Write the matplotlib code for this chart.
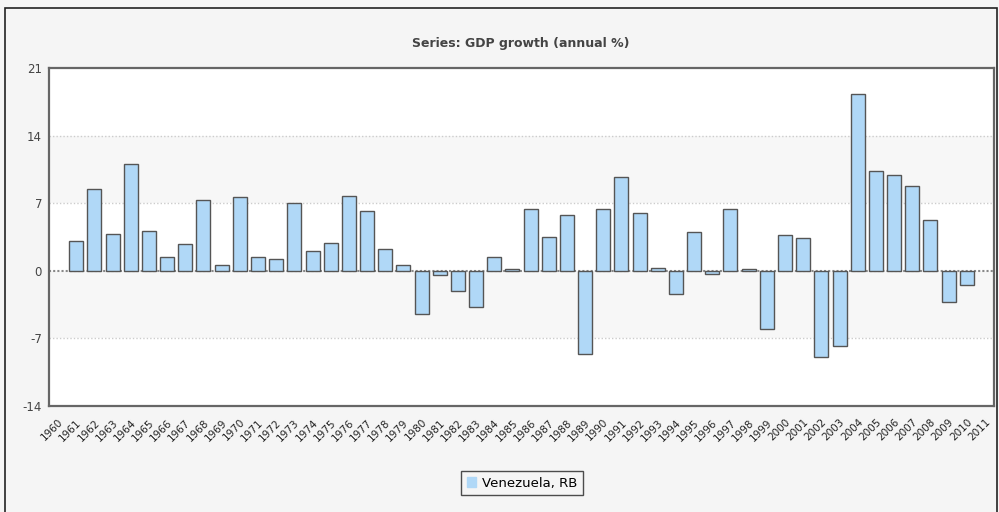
import numpy as np
import matplotlib
matplotlib.use('Agg')
from matplotlib import pyplot as plt
from matplotlib.patches import Rectangle, Patch

# GDP growth (annual %), Venezuela, RB; None = no data
years = list(range(1960, 2012))
growth = [None, 3.1, 8.5, 3.8, 11.1, 4.1, 1.4, 2.8, 7.3, 0.6,
          7.6, 1.4, 1.2, 7.0, 2.0, 2.9, 7.7, 6.2, 2.3, 0.6,
          -4.5, -0.4, -2.1, -3.8, 1.4, 0.2, 6.4, 3.5, 5.8, -8.6,
          6.4, 9.7, 6.0, 0.3, -2.4, 4.0, -0.3, 6.4, 0.2, -6.0,
          3.7, 3.4, -8.9, -7.8, 18.3, 10.3, 9.9, 8.8, 5.3, -3.2,
          -1.5, None]
y_ticks = [-14, -7, 0, 7, 14, 21]
series_name = 'Venezuela, RB'
title = 'Series: GDP growth (annual %)'

bar_color = '#b0d8f7'
edge_color = '#555555'

fig = plt.figure(figsize=(9.99, 5.12), dpi=100)
fig.patch.set_facecolor('#f5f5f5')

# outer frame of the chart widget
fig.patches.append(Rectangle((5 / 999, -0.1), 992 / 999, 1.1 - 8 / 512,
                             transform=fig.transFigure, fill=False,
                             edgecolor='#222222', linewidth=1.2))

ax = fig.add_axes([49 / 999, 1 - 406 / 512, (994 - 49) / 999, (406 - 68) / 512])
ax.set_facecolor('white')

# alternating bands between grid lines
for lo, hi in [(7, 14), (-7, 0)]:
    ax.axhspan(lo, hi, color='#f7f7f7', zorder=0, linewidth=0)
for t in [14, 7, -7]:
    ax.axhline(t, color='#cccccc', linestyle=(0, (1, 1.5)), linewidth=1, zorder=1)

x = np.arange(len(years))
vals = np.array([np.nan if v is None else v for v in growth], dtype=float)
mask = ~np.isnan(vals)
ax.bar(x[mask], vals[mask], width=0.77, color=bar_color,
       edgecolor=edge_color, linewidth=1.0, zorder=3)
ax.axhline(0, color='#888888', linestyle=(0, (1, 1)), linewidth=1.5, zorder=2)

ax.set_xlim(-0.5, len(years) - 0.5)
ax.set_ylim(-14, 21)
ax.set_yticks(y_ticks)
ax.set_yticklabels([str(t) for t in y_ticks], fontsize=8.5, color='#444444')
ax.set_xticks(x)
ax.set_xticklabels([str(y) for y in years], fontsize=7.5, color='#222222',
                   rotation=45, ha='right', rotation_mode='anchor')
ax.tick_params(axis='both', length=0)
ax.tick_params(axis='y', pad=5)
ax.tick_params(axis='x', pad=8)

for s in ax.spines.values():
    s.set_color('#666666')
    s.set_linewidth(1.6)

fig.text(521 / 999, 1 - 44 / 512, title, ha='center', va='center',
         fontsize=9, fontweight='bold', color='#444444')

leg = fig.legend(handles=[Patch(facecolor=bar_color, edgecolor=bar_color, label=series_name)],
                 loc='center', bbox_to_anchor=(522 / 999, 1 - 483 / 512),
                 fontsize=9.5, frameon=True, fancybox=False, handlelength=0.7,
                 handleheight=0.7, handletextpad=0.4, borderpad=0.45)
leg.get_frame().set_edgecolor('#222222')
leg.get_frame().set_linewidth(1.0)
leg.get_frame().set_facecolor('#f5f5f5')

fig.savefig('out.png', dpi=100, facecolor=fig.get_facecolor())
